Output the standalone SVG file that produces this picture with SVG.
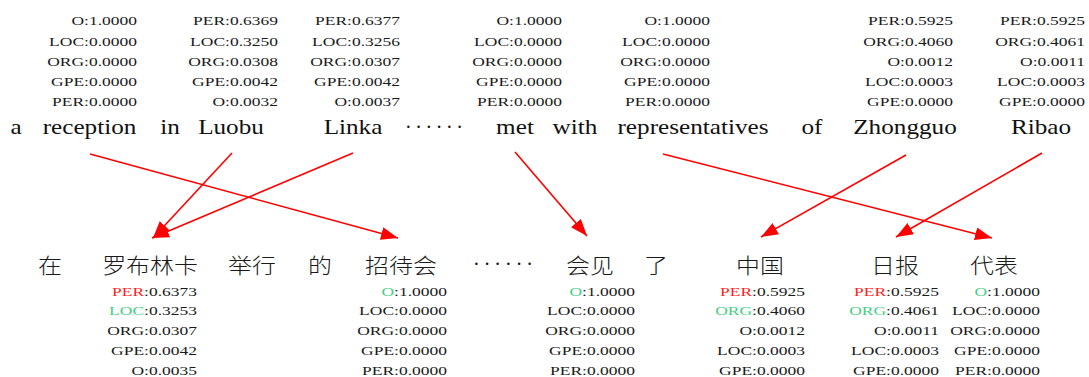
<svg xmlns="http://www.w3.org/2000/svg" width="1089" height="377" viewBox="0 0 1089 377">
  <style>
    .word{font-family:'Liberation Serif','DejaVu Serif',serif;font-size:20px;fill:#111;text-anchor:middle}
    .zh{font-family:'Noto Sans CJK SC','Noto Sans CJK JP',sans-serif;font-size:21px;font-weight:300;fill:#1a1a1a;text-anchor:middle}
    .dots{font-family:'Liberation Serif','DejaVu Serif',serif;font-size:20px;fill:#111}
    .num text{font-family:'Liberation Serif','DejaVu Serif',serif;font-size:12.5px;fill:#1a1a1a;text-anchor:end}
    .num tspan.red{fill:#ff1f1f}
    .num tspan.green{fill:#45cf85}
    .arrow{stroke:#ff0000;stroke-width:1.6;fill:none;marker-end:url(#head)}
  </style>
  <defs>
    <marker id="head" markerUnits="userSpaceOnUse" markerWidth="18" markerHeight="14" refX="17" refY="6.5" orient="auto">
      <path d="M0,0 L17,6.5 L0,13 Z" fill="#ff0000"/>
    </marker>
  </defs>
  <rect width="1089" height="377" fill="#ffffff"/>

  <!-- English source sentence with tag probabilities -->
  <g id="en-a">
    <text class="word" transform="translate(16,134) scale(1.26,1)">a</text>
  </g>
  <g id="en-reception">
    <text class="word" transform="translate(89.5,134) scale(1.26,1)">reception</text>
    <g class="num" transform="translate(137,0) scale(1.4,1)">
      <text y="25">O:1.0000</text><text y="46">LOC:0.0000</text><text y="66">ORG:0.0000</text><text y="86">GPE:0.0000</text><text y="106">PER:0.0000</text>
    </g>
  </g>
  <g id="en-in">
    <text class="word" transform="translate(170,134) scale(1.26,1)">in</text>
  </g>
  <g id="en-luobu">
    <text class="word" transform="translate(231,134) scale(1.26,1)">Luobu</text>
    <g class="num" transform="translate(278,0) scale(1.4,1)">
      <text y="25">PER:0.6369</text><text y="46">LOC:0.3250</text><text y="66">ORG:0.0308</text><text y="86">GPE:0.0042</text><text y="106">O:0.0032</text>
    </g>
  </g>
  <g id="en-linka">
    <text class="word" transform="translate(353,134) scale(1.26,1)">Linka</text>
    <g class="num" transform="translate(400,0) scale(1.4,1)">
      <text y="25">PER:0.6377</text><text y="46">LOC:0.3256</text><text y="66">ORG:0.0307</text><text y="86">GPE:0.0042</text><text y="106">O:0.0037</text>
    </g>
  </g>
  <g id="en-ellipsis">
    <text class="dots" x="405" y="134" textLength="58" lengthAdjust="spacing">······</text>
  </g>
  <g id="en-met">
    <text class="word" transform="translate(515,134) scale(1.26,1)">met</text>
    <g class="num" transform="translate(562,0) scale(1.4,1)">
      <text y="25">O:1.0000</text><text y="46">LOC:0.0000</text><text y="66">ORG:0.0000</text><text y="86">GPE:0.0000</text><text y="106">PER:0.0000</text>
    </g>
  </g>
  <g id="en-with">
    <text class="word" transform="translate(575,134) scale(1.26,1)">with</text>
    <g class="num" transform="translate(710,0) scale(1.4,1)">
      <text y="25">O:1.0000</text><text y="46">LOC:0.0000</text><text y="66">ORG:0.0000</text><text y="86">GPE:0.0000</text><text y="106">PER:0.0000</text>
    </g>
  </g>
  <g id="en-representatives">
    <text class="word" transform="translate(693,134) scale(1.26,1)">representatives</text>
  </g>
  <g id="en-of">
    <text class="word" transform="translate(812,134) scale(1.26,1)">of</text>
  </g>
  <g id="en-zhongguo">
    <text class="word" transform="translate(905,134) scale(1.26,1)">Zhongguo</text>
    <g class="num" transform="translate(953,0) scale(1.4,1)">
      <text y="25">PER:0.5925</text><text y="46">ORG:0.4060</text><text y="66">O:0.0012</text><text y="86">LOC:0.0003</text><text y="106">GPE:0.0000</text>
    </g>
  </g>
  <g id="en-ribao">
    <text class="word" transform="translate(1041,134) scale(1.26,1)">Ribao</text>
    <g class="num" transform="translate(1085,0) scale(1.4,1)">
      <text y="25">PER:0.5925</text><text y="46">ORG:0.4061</text><text y="66">O:0.0011</text><text y="86">LOC:0.0003</text><text y="106">GPE:0.0000</text>
    </g>
  </g>

  <!-- Chinese target sentence with projected tag probabilities -->
  <g id="zh-zai">
    <text class="zh" transform="translate(50,273) scale(1.14,1)">在</text>
  </g>
  <g id="zh-luobulinka">
    <text class="zh" transform="translate(150,273) scale(1.14,1)">罗布林卡</text>
    <g class="num" transform="translate(197,0) scale(1.4,1)">
      <text y="296"><tspan class="red">PER</tspan>:0.6373</text><text y="315"><tspan class="green">LOC</tspan>:0.3253</text><text y="335">ORG:0.0307</text><text y="355">GPE:0.0042</text><text y="375">O:0.0035</text>
    </g>
  </g>
  <g id="zh-juxing">
    <text class="zh" transform="translate(252,273) scale(1.14,1)">举行</text>
  </g>
  <g id="zh-de">
    <text class="zh" transform="translate(320,273) scale(1.14,1)">的</text>
  </g>
  <g id="zh-zhaodaihui">
    <text class="zh" transform="translate(401,273) scale(1.14,1)">招待会</text>
    <g class="num" transform="translate(447,0) scale(1.4,1)">
      <text y="296"><tspan class="green">O</tspan>:1.0000</text><text y="315">LOC:0.0000</text><text y="335">ORG:0.0000</text><text y="355">GPE:0.0000</text><text y="375">PER:0.0000</text>
    </g>
  </g>
  <g id="zh-ellipsis">
    <text class="dots" x="473" y="271" textLength="60" lengthAdjust="spacing">······</text>
  </g>
  <g id="zh-huijian">
    <text class="zh" transform="translate(590,273) scale(1.14,1)">会见</text>
    <g class="num" transform="translate(635,0) scale(1.4,1)">
      <text y="296"><tspan class="green">O</tspan>:1.0000</text><text y="315">LOC:0.0000</text><text y="335">ORG:0.0000</text><text y="355">GPE:0.0000</text><text y="375">PER:0.0000</text>
    </g>
  </g>
  <g id="zh-le">
    <text class="zh" transform="translate(656,273) scale(1.14,1)">了</text>
  </g>
  <g id="zh-zhongguo">
    <text class="zh" transform="translate(760,273) scale(1.14,1)">中国</text>
    <g class="num" transform="translate(805,0) scale(1.4,1)">
      <text y="296"><tspan class="red">PER</tspan>:0.5925</text><text y="315"><tspan class="green">ORG</tspan>:0.4060</text><text y="335">O:0.0012</text><text y="355">LOC:0.0003</text><text y="375">GPE:0.0000</text>
    </g>
  </g>
  <g id="zh-ribao">
    <text class="zh" transform="translate(895,273) scale(1.14,1)">日报</text>
    <g class="num" transform="translate(939,0) scale(1.4,1)">
      <text y="296"><tspan class="red">PER</tspan>:0.5925</text><text y="315"><tspan class="green">ORG</tspan>:0.4061</text><text y="335">O:0.0011</text><text y="355">LOC:0.0003</text><text y="375">GPE:0.0000</text>
    </g>
  </g>
  <g id="zh-daibiao">
    <text class="zh" transform="translate(994,273) scale(1.14,1)">代表</text>
    <g class="num" transform="translate(1040,0) scale(1.4,1)">
      <text y="296"><tspan class="green">O</tspan>:1.0000</text><text y="315">LOC:0.0000</text><text y="335">ORG:0.0000</text><text y="355">GPE:0.0000</text><text y="375">PER:0.0000</text>
    </g>
  </g>

  <!-- word alignment links -->
  <g id="alignments">
    <line class="arrow" x1="90" y1="154" x2="398" y2="238"/>
    <line class="arrow" x1="232" y1="153" x2="153" y2="238"/>
    <line class="arrow" x1="353" y1="153" x2="152" y2="238"/>
    <line class="arrow" x1="515" y1="152" x2="587" y2="236"/>
    <line class="arrow" x1="663" y1="154" x2="992" y2="238"/>
    <line class="arrow" x1="906" y1="155" x2="761" y2="237"/>
    <line class="arrow" x1="1042" y1="153" x2="896" y2="237"/>
  </g>
</svg>
